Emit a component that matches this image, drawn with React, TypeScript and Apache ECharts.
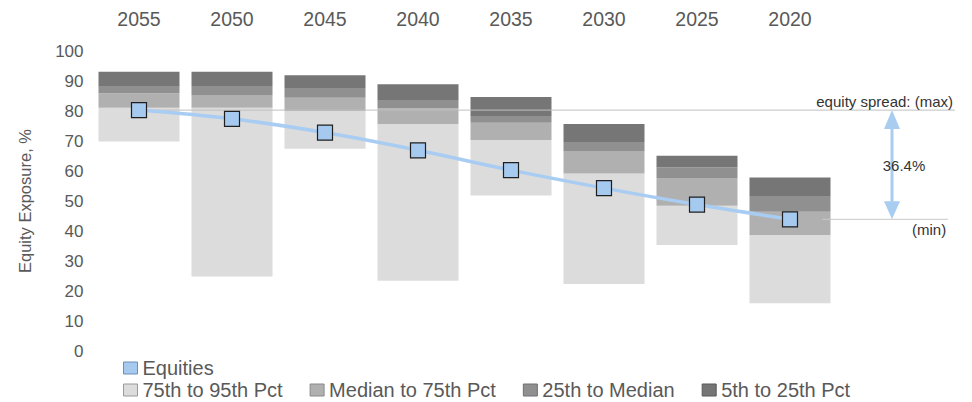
import { useEffect, useRef } from "react";
import * as echarts from "echarts";

// Target-date vintages, left to right
const years = ["2055", "2050", "2045", "2040", "2035", "2030", "2025", "2020"];

// Equity exposure of the glide path (%)
const equities = [80.3, 77.4, 72.8, 66.9, 60.3, 54.3, 48.8, 43.9];

// Peer-group percentile edges for each vintage (%)
const pct95 = [69.8, 24.8, 67.4, 23.4, 51.8, 22.3, 35.3, 15.9];
const pct75 = [81.1, 81.1, 80.0, 75.7, 70.3, 59.2, 48.4, 38.7];
const median = [85.9, 85.3, 84.4, 80.9, 76.1, 66.7, 57.7, 46.4];
const pct25 = [88.1, 88.1, 87.7, 83.7, 78.3, 69.4, 61.2, 51.7];
const pct5 = [93.1, 93.1, 91.9, 88.9, 84.7, 75.7, 65.1, 57.8];

const bandNames = ["75th to 95th Pct", "Median to 75th Pct", "25th to Median", "5th to 25th Pct"];
const bandColors = ["#dcdcdc", "#b0b0b0", "#909090", "#767676"];
const bandBorders = ["#9a9a9a", "#8a8a8a", "#707070", "#595959"];

const FONT = '"Liberation Sans", Arial, sans-serif';
const TEXT = "#595959";

const diff = (top: number[], bottom: number[]) =>
  top.map((v, i) => Math.round((v - bottom[i]) * 10) / 10);

export default function App() {
  const ref = useRef<HTMLDivElement>(null);

  useEffect(() => {
    if (!ref.current) return;
    const chart = echarts.init(ref.current, undefined, { renderer: "svg" });

    const bandEdges = [pct95, pct75, median, pct25, pct5];
    const bandSeries = bandNames.map((name, k) => ({
      name,
      type: "bar",
      stack: "range",
      barWidth: 81,
      data: diff(bandEdges[k + 1], bandEdges[k]),
      itemStyle: { color: bandColors[k] },
      emphasis: { disabled: true },
      z: 2,
    }));

    const option: any = {
      animation: false,
      textStyle: { fontFamily: FONT },
      grid: { left: 92.5, right: 135.5, top: 51, bottom: 51 },
      xAxis: {
        type: "category",
        position: "top",
        data: years,
        axisLine: { show: false },
        axisTick: { show: false },
        axisLabel: { color: TEXT, fontSize: 19.5, margin: 22, fontFamily: FONT },
      },
      yAxis: {
        type: "value",
        min: 0,
        max: 100,
        interval: 10,
        splitLine: { show: false },
        axisLine: { show: false },
        axisTick: { show: false },
        axisLabel: { color: TEXT, fontSize: 17, margin: 9, fontFamily: FONT },
        name: "Equity Exposure, %",
        nameLocation: "middle",
        nameGap: 59,
        nameTextStyle: { color: TEXT, fontSize: 16.5, fontFamily: FONT },
      },
      legend: [
        {
          data: [{ name: "Equities", itemStyle: { borderColor: "#6f8fb5", borderWidth: 1 } }],
          left: 123,
          top: 358,
          padding: 0,
          icon: "rect",
          itemWidth: 14,
          itemHeight: 12,
          textStyle: { color: TEXT, fontSize: 20, fontFamily: FONT },
        },
        {
          data: bandNames.map((name, k) => ({
            name,
            itemStyle: { borderColor: bandBorders[k], borderWidth: 1 },
          })),
          left: 123,
          top: 380,
          padding: 0,
          icon: "rect",
          itemWidth: 14,
          itemHeight: 12,
          itemGap: 27,
          textStyle: { color: TEXT, fontSize: 20, fontFamily: FONT },
        },
      ],
      series: [
        {
          name: "base",
          type: "bar",
          stack: "range",
          barWidth: 81,
          data: pct95,
          itemStyle: { color: "rgba(0,0,0,0)" },
          silent: true,
          z: 2,
        },
        ...bandSeries,
        {
          name: "Equities",
          type: "line",
          data: equities,
          smooth: 0.35,
          symbol: "rect",
          symbolSize: 15,
          lineStyle: { color: "#a9cdf2", width: 3.5 },
          itemStyle: { color: "#a6c9ef", borderColor: "#1f1f1f", borderWidth: 1.2 },
          emphasis: { disabled: true },
          z: 5,
        },
      ],
    };

    chart.setOption(option);

    // Spread annotation between the highest and lowest equity exposure
    const maxVal = Math.max(...equities);
    const minVal = Math.min(...equities);
    const iMax = equities.indexOf(maxVal);
    const iMin = equities.indexOf(minVal);
    const [xMax, yMax] = chart.convertToPixel({ gridIndex: 0 }, [iMax, maxVal]) as number[];
    const [xMin, yMin] = chart.convertToPixel({ gridIndex: 0 }, [iMin, minVal]) as number[];
    const spread = (maxVal - minVal).toFixed(1);
    const arrowX = 892;
    const arrowColor = "#a9cdf0";

    chart.setOption({
      graphic: [
        {
          type: "line",
          z: 3,
          shape: { x1: xMax, y1: yMax, x2: 955, y2: yMax },
          style: { stroke: "#c0c0c0", lineWidth: 1 },
          silent: true,
        },
        {
          type: "line",
          z: 3,
          shape: { x1: xMin + 32, y1: yMin, x2: 948, y2: yMin },
          style: { stroke: "#c8c8c8", lineWidth: 1 },
          silent: true,
        },
        {
          type: "line",
          z: 3,
          shape: { x1: arrowX, y1: yMax + 16, x2: arrowX, y2: yMin - 16 },
          style: { stroke: arrowColor, lineWidth: 3 },
          silent: true,
        },
        {
          type: "polygon",
          z: 3,
          shape: { points: [[arrowX - 8, yMax + 19], [arrowX + 8, yMax + 19], [arrowX, yMax]] },
          style: { fill: arrowColor },
          silent: true,
        },
        {
          type: "polygon",
          z: 3,
          shape: { points: [[arrowX - 8, yMin - 18], [arrowX + 8, yMin - 18], [arrowX, yMin]] },
          style: { fill: arrowColor },
          silent: true,
        },
        {
          type: "text",
          z: 6,
          x: 953,
          y: yMax - 8.5,
          style: {
            text: "equity spread: (max)",
            align: "right",
            verticalAlign: "middle",
            fontSize: 15,
            fontFamily: FONT,
            fill: "#333333",
          },
          silent: true,
        },
        {
          type: "text",
          z: 6,
          x: 904,
          y: (yMax + yMin) / 2 + 1,
          style: {
            text: `${spread}%`,
            align: "center",
            verticalAlign: "middle",
            fontSize: 15,
            fontFamily: FONT,
            fill: "#333333",
          },
          silent: true,
        },
        {
          type: "text",
          z: 6,
          x: 912,
          y: yMin + 10,
          style: {
            text: "(min)",
            align: "left",
            verticalAlign: "middle",
            fontSize: 15,
            fontFamily: FONT,
            fill: "#333333",
          },
          silent: true,
        },
      ],
    });

    return () => chart.dispose();
  }, []);

  return (
    <div
      ref={ref}
      style={{ position: "absolute", left: 0, top: 0, width: 972, height: 402, background: "#ffffff" }}
    />
  );
}
